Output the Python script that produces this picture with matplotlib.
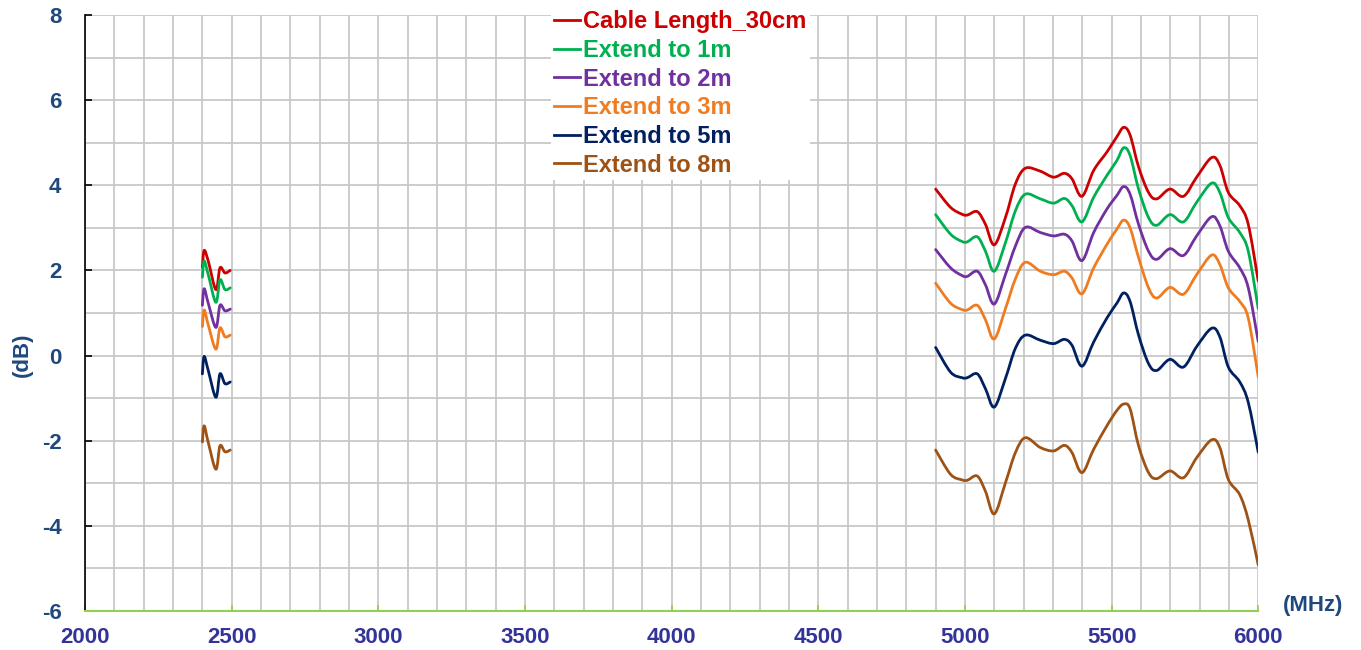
import numpy as np
import matplotlib.pyplot as plt
from matplotlib.path import Path
from matplotlib.patches import PathPatch
from matplotlib.lines import Line2D
from matplotlib.ticker import MultipleLocator

plt.rcParams['font.family'] = ['Liberation Sans', 'DejaVu Sans']
plt.rcParams['axes.unicode_minus'] = False

# 2.4G 频段
freq_24 = [2400, 2406, 2420, 2446, 2460, 2477, 2495]
# 5G 频段
freq_5 = [4900, 4951, 4990, 5008, 5042, 5070, 5100, 5138, 5172, 5206, 5257, 5302,
          5339, 5365, 5399, 5439, 5484, 5518, 5541, 5563, 5592, 5626, 5654, 5699,
          5745, 5790, 5841, 5869, 5898, 5937, 5966, 6000]

names = ['Cable Length_30cm', 'Extend to 1m', 'Extend to 2m',
         'Extend to 3m', 'Extend to 5m', 'Extend to 8m']
colors = ['#CC0000', '#00B050', '#7030A0', '#F07C22', '#002060', '#9E5214']

gain_24 = [
    [2.07, 2.47, 2.22, 1.55, 2.06, 1.94, 2.00],
    [1.84, 2.22, 1.90, 1.25, 1.78, 1.55, 1.59],
    [1.18, 1.57, 1.23, 0.66, 1.18, 1.05, 1.09],
    [0.68, 1.07, 0.72, 0.15, 0.65, 0.44, 0.48],
    [-0.43, -0.02, -0.35, -0.98, -0.43, -0.66, -0.62],
    [-2.03, -1.65, -2.04, -2.67, -2.12, -2.26, -2.22],
]

gain_5 = [
    [3.91, 3.48, 3.32, 3.30, 3.38, 3.08, 2.60, 3.24, 4.03, 4.40, 4.33, 4.19,
     4.28, 4.15, 3.74, 4.35, 4.78, 5.14, 5.36, 5.18, 4.43, 3.83, 3.68, 3.91,
     3.74, 4.19, 4.65, 4.47, 3.83, 3.52, 3.08, 1.75],
    [3.31, 2.85, 2.68, 2.67, 2.79, 2.45, 1.98, 2.65, 3.40, 3.79, 3.68, 3.58,
     3.69, 3.52, 3.14, 3.72, 4.23, 4.58, 4.88, 4.70, 3.91, 3.24, 3.06, 3.31,
     3.14, 3.60, 4.05, 3.83, 3.24, 2.89, 2.45, 1.10],
    [2.49, 2.06, 1.88, 1.86, 1.98, 1.66, 1.21, 1.90, 2.57, 3.01, 2.89, 2.81,
     2.85, 2.69, 2.23, 2.89, 3.44, 3.76, 3.97, 3.79, 3.08, 2.45, 2.26, 2.51,
     2.35, 2.81, 3.26, 3.05, 2.45, 2.06, 1.59, 0.33],
    [1.70, 1.23, 1.08, 1.07, 1.18, 0.84, 0.39, 1.10, 1.80, 2.19, 1.98, 1.90,
     1.98, 1.82, 1.45, 2.06, 2.61, 2.97, 3.18, 3.00, 2.30, 1.59, 1.35, 1.60,
     1.44, 1.90, 2.36, 2.14, 1.59, 1.27, 0.88, -0.50],
    [0.19, -0.39, -0.52, -0.52, -0.43, -0.78, -1.21, -0.54, 0.17, 0.48, 0.36, 0.28,
     0.38, 0.24, -0.25, 0.32, 0.88, 1.23, 1.47, 1.27, 0.48, -0.19, -0.35, -0.09,
     -0.27, 0.21, 0.64, 0.44, -0.27, -0.62, -1.10, -2.27],
    [-2.22, -2.79, -2.92, -2.93, -2.83, -3.19, -3.72, -2.99, -2.28, -1.93, -2.16, -2.24,
     -2.11, -2.28, -2.75, -2.20, -1.65, -1.29, -1.14, -1.25, -2.12, -2.75, -2.89, -2.71,
     -2.87, -2.40, -1.98, -2.16, -2.91, -3.27, -3.86, -4.92],
]

AXIS_BLUE = '#1F497D'
TICK_BLUE = '#333399'


def smooth_path(x, y):
    # 平滑曲线：Catmull-Rom 转三次贝塞尔
    p = np.column_stack([x, y]).astype(float)
    n = len(p)
    verts = [p[0]]
    codes = [Path.MOVETO]
    for i in range(n - 1):
        p0 = p[i - 1] if i > 0 else p[i]
        p3 = p[i + 2] if i + 2 < n else p[i + 1]
        c1 = p[i] + (p[i + 1] - p0) / 6
        c2 = p[i + 1] - (p3 - p[i]) / 6
        verts += [c1, c2, p[i + 1]]
        codes += [Path.CURVE4] * 3
    return Path(verts, codes)


fig = plt.figure(figsize=(13.61, 6.5), dpi=100)
ax = fig.add_axes([0.0625, 0.06, 0.862, 0.917])

for k in range(len(names)):
    for fx, gy in ((freq_24, gain_24[k]), (freq_5, gain_5[k])):
        ax.add_patch(PathPatch(smooth_path(fx, gy), facecolor='none',
                               edgecolor=colors[k], lw=2.0, capstyle='round',
                               joinstyle='round', zorder=3))

ax.set_xlim(2000, 6000)
ax.set_ylim(-6, 8)
ax.xaxis.set_major_locator(MultipleLocator(500))
ax.xaxis.set_minor_locator(MultipleLocator(100))
ax.yaxis.set_major_locator(MultipleLocator(2))
ax.yaxis.set_minor_locator(MultipleLocator(1))
ax.grid(which='both', color='#C8C8C8', lw=1.3)
ax.set_axisbelow(True)

for s in ('top', 'right'):
    ax.spines[s].set_visible(False)
ax.spines['left'].set_color('black')
ax.spines['left'].set_linewidth(1.2)
ax.spines['bottom'].set_color('#92D050')
ax.spines['bottom'].set_linewidth(1.5)
ax.spines['bottom'].set_zorder(4)

ax.tick_params(axis='y', which='major', direction='in', length=5, width=1.2,
               color='black', pad=17, labelsize=16, labelcolor=AXIS_BLUE)
ax.tick_params(axis='y', which='minor', length=0)
ax.tick_params(axis='x', which='major', direction='in', length=4, width=1.2,
               color='#92D050', pad=11.5, labelsize=16, labelcolor=TICK_BLUE)
ax.tick_params(axis='x', which='minor', length=0)
for lab in ax.get_xticklabels() + ax.get_yticklabels():
    lab.set_fontweight('bold')

fig.text(22 / 1361, 1 - 355 / 650, '(dB)', rotation=90, ha='center', va='center',
         fontsize=16, fontweight='bold', color=AXIS_BLUE)
fig.text(1313 / 1361, 1 - 606 / 650, '(MHz)', ha='center', va='center',
         fontsize=16, fontweight='bold', color=AXIS_BLUE)

handles = [Line2D([], [], color=c, lw=2.0) for c in colors]
leg = fig.legend(handles, names, loc='upper left',
                 bbox_to_anchor=(539 / 1361, 1 + 5 / 650),
                 frameon=True, fancybox=False, edgecolor='none', facecolor='white',
                 framealpha=1, handlelength=1.1, handletextpad=0.12,
                 labelspacing=0.24, borderpad=0.15,
                 prop={'size': 17, 'weight': 'bold'})
for txt, c in zip(leg.get_texts(), colors):
    txt.set_color(c)

fig.savefig('out.png', dpi=100)
